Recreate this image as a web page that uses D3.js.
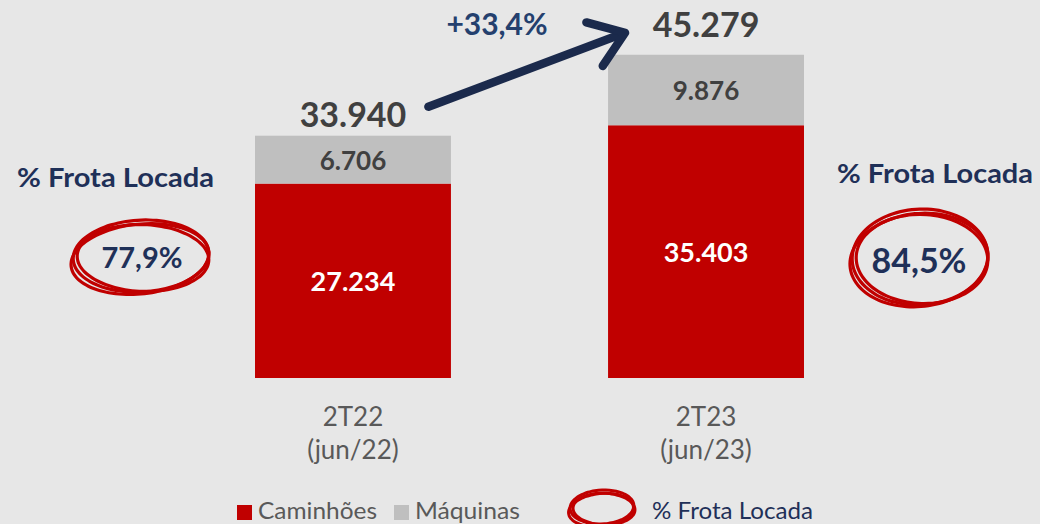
<!DOCTYPE html>
<html>
<head>
<meta charset="utf-8">
<script src="https://cdn.jsdelivr.net/npm/d3@7"></script>
<style>
  html, body { margin: 0; padding: 0; background: #e7e7e7; }
  svg { display: block; font-family: Lato, "Open Sans", sans-serif; }
</style>
</head>
<body>
<div id="chart"></div>
<script>
// ------- Data -------
const periods = ["2T22", "2T23"];
const periodSub = ["(jun/22)", "(jun/23)"];
const caminhoes = [27234, 35403];
const maquinas = [6706, 9876];
const frotaLocada = [77.9, 84.5];
const growthLabel = "+33,4%";
const legendLabels = ["Caminhões", "Máquinas", "% Frota Locada"];

// ------- Setup -------
const width = 1040;
const height = 524;
const RED = "#c00000";
const GRAY = "#bfbfbf";
const NAVY = "#1f3058";

const pt = d3.formatLocale({ decimal: ",", thousands: ".", grouping: [3], currency: ["R$", ""] });
const fmtInt = pt.format(",d");
const fmtPct = pt.format(".1f");

const svg = d3.select("#chart").append("svg")
  .attr("width", width)
  .attr("height", height);

svg.append("rect").attr("width", width).attr("height", height).attr("fill", "#e7e7e7");

const rows = periods.map((p, i) => ({
  period: p,
  sub: periodSub[i],
  cam: caminhoes[i],
  maq: maquinas[i],
  total: caminhoes[i] + maquinas[i],
}));

const x = d3.scaleBand()
  .domain(periods)
  .range([184.4, 874.6])
  .paddingInner(0.445)
  .paddingOuter(0.2);

const y = d3.scaleLinear()
  .domain([0, 50000])
  .range([378, 21.05]);

// ------- Bars -------
const bars = svg.append("g");

bars.selectAll("rect.cam")
  .data(rows)
  .join("rect")
  .attr("class", "cam")
  .attr("x", (d) => x(d.period))
  .attr("width", x.bandwidth())
  .attr("y", (d) => y(d.cam))
  .attr("height", (d) => y(0) - y(d.cam))
  .attr("fill", RED);

bars.selectAll("rect.maq")
  .data(rows)
  .join("rect")
  .attr("class", "maq")
  .attr("x", (d) => x(d.period))
  .attr("width", x.bandwidth())
  .attr("y", (d) => y(d.total))
  .attr("height", (d) => y(d.cam) - y(d.total))
  .attr("fill", GRAY);

// segment labels
bars.selectAll("text.cam-label")
  .data(rows)
  .join("text")
  .attr("class", "cam-label")
  .attr("x", (d) => x(d.period) + x.bandwidth() / 2)
  .attr("y", (d) => (y(0) + y(d.cam)) / 2 + 10)
  .attr("text-anchor", "middle")
  .attr("font-size", 27)
  .attr("font-weight", 700)
  .attr("fill", "#ffffff")
  .text((d) => fmtInt(d.cam));

bars.selectAll("text.maq-label")
  .data(rows)
  .join("text")
  .attr("class", "maq-label")
  .attr("x", (d) => x(d.period) + x.bandwidth() / 2)
  .attr("y", (d) => (y(d.cam) + y(d.total)) / 2 + 10)
  .attr("text-anchor", "middle")
  .attr("font-size", 26)
  .attr("font-weight", 700)
  .attr("fill", "#404040")
  .text((d) => fmtInt(d.maq));

// totals
bars.selectAll("text.total")
  .data(rows)
  .join("text")
  .attr("class", "total")
  .attr("x", (d) => x(d.period) + x.bandwidth() / 2)
  .attr("y", (d, i) => y(d.total) - (i === 0 ? 9 : 18))
  .attr("text-anchor", "middle")
  .attr("font-size", 34)
  .attr("font-weight", 700)
  .attr("fill", "#404040")
  .text((d) => fmtInt(d.total));

// ------- X axis -------
const xAxisG = svg.append("g")
  .attr("transform", `translate(0,${y(0)})`)
  .call(d3.axisBottom(x).tickSize(0).tickPadding(0));

xAxisG.select(".domain").remove();
xAxisG.selectAll(".tick text").each(function (d, i) {
  const t = d3.select(this)
    .attr("y", 0)
    .attr("dy", null)
    .attr("font-family", "Lato, 'Open Sans', sans-serif")
    .attr("font-size", 26)
    .attr("fill", "#595959")
    .text(null);
  t.append("tspan").attr("x", 0).attr("y", 48).text(periods[i]);
  t.append("tspan").attr("x", 0).attr("y", 81).text(periodSub[i]);
});

// ------- Growth arrow -------
const x0 = x(periods[0]) + x.bandwidth() * 0.885;
const y0 = y(rows[0].total) - 29;
const x1 = x(periods[1]) + 17;
const y1 = y(rows[1].total) - 22;
const ang = Math.atan2(y1 - y0, x1 - x0);
const headLen = 40;
const spread = 0.62;

const arrow = svg.append("g")
  .attr("stroke", "#1b2a4c")
  .attr("stroke-width", 8.5)
  .attr("fill", "none")
  .attr("stroke-linecap", "round")
  .attr("stroke-linejoin", "round");

arrow.append("path")
  .attr("d", d3.line()([[x0, y0], [x1 - 3 * Math.cos(ang), y1 - 3 * Math.sin(ang)]]));
arrow.append("path")
  .attr("d", d3.line()([
    [x1 - headLen * Math.cos(ang - spread), y1 - headLen * Math.sin(ang - spread)],
    [x1, y1],
    [x1 - headLen * Math.cos(ang + spread), y1 - headLen * Math.sin(ang + spread)],
  ]));

svg.append("text")
  .attr("x", 497)
  .attr("y", 35)
  .attr("text-anchor", "middle")
  .attr("font-size", 30)
  .attr("font-weight", 700)
  .attr("fill", "#24406e")
  .text(growthLabel);

// ------- Hand drawn circles -------
function scribble(cx, cy, rx, ry, strokeW) {
  const g = svg.append("g")
    .attr("fill", "none")
    .attr("stroke", RED)
    .attr("stroke-width", strokeW)
    .attr("stroke-linecap", "round");
  const loops = [
    { dx: 0, dy: 0, sx: 1.0, sy: 1.0, rot: -3, a0: 0.3, a1: 2.2 },
    { dx: 2, dy: 2, sx: 0.97, sy: 0.93, rot: 2, a0: 1.2, a1: 2.1 },
    { dx: -1, dy: 3, sx: 1.02, sy: 0.97, rot: -6, a0: 2.0, a1: 2.05 },
  ];
  loops.forEach((l) => {
    const pts = d3.range(0, 61).map((k) => {
      const t = (l.a0 + (k / 60) * l.a1) * Math.PI;
      const ex = rx * l.sx * Math.cos(t);
      const ey = ry * l.sy * Math.sin(t);
      const r = (l.rot * Math.PI) / 180;
      return [cx + l.dx + ex * Math.cos(r) - ey * Math.sin(r), cy + l.dy + ex * Math.sin(r) + ey * Math.cos(r)];
    });
    g.append("path").attr("d", d3.line().curve(d3.curveBasis)(pts));
  });
}

scribble(141, 256, 68, 36, 3.2);
scribble(920, 257, 68, 48, 3.2);

// side annotations
svg.append("text")
  .attr("x", 17).attr("y", 187)
  .attr("textLength", 197).attr("lengthAdjust", "spacingAndGlyphs")
  .attr("font-size", 27).attr("font-weight", 700)
  .attr("fill", NAVY)
  .text("% Frota Locada");

svg.append("text")
  .attr("x", 142).attr("y", 268)
  .attr("text-anchor", "middle")
  .attr("font-size", 29).attr("font-weight", 700)
  .attr("fill", NAVY)
  .text(fmtPct(frotaLocada[0]) + "%");

svg.append("text")
  .attr("x", 837).attr("y", 183)
  .attr("textLength", 196).attr("lengthAdjust", "spacingAndGlyphs")
  .attr("font-size", 27).attr("font-weight", 700)
  .attr("fill", NAVY)
  .text("% Frota Locada");

svg.append("text")
  .attr("x", 919).attr("y", 273)
  .attr("text-anchor", "middle")
  .attr("font-size", 34).attr("font-weight", 700)
  .attr("fill", NAVY)
  .text(fmtPct(frotaLocada[1]) + "%");

// ------- Legend -------
const legend = svg.append("g");
legend.append("rect").attr("x", 237).attr("y", 505).attr("width", 15).attr("height", 15).attr("fill", RED);
legend.append("text").attr("x", 258).attr("y", 519)
  .attr("textLength", 119).attr("lengthAdjust", "spacingAndGlyphs")
  .attr("font-size", 24).attr("fill", "#595959").text(legendLabels[0]);
legend.append("rect").attr("x", 394).attr("y", 505).attr("width", 15).attr("height", 15).attr("fill", GRAY);
legend.append("text").attr("x", 415).attr("y", 519)
  .attr("textLength", 105).attr("lengthAdjust", "spacingAndGlyphs")
  .attr("font-size", 24).attr("fill", "#595959").text(legendLabels[1]);
scribble(602, 507, 32, 17, 3);
legend.append("text").attr("x", 652).attr("y", 519)
  .attr("textLength", 161).attr("lengthAdjust", "spacingAndGlyphs")
  .attr("font-size", 24).attr("fill", NAVY).text(legendLabels[2]);
</script>
</body>
</html>
